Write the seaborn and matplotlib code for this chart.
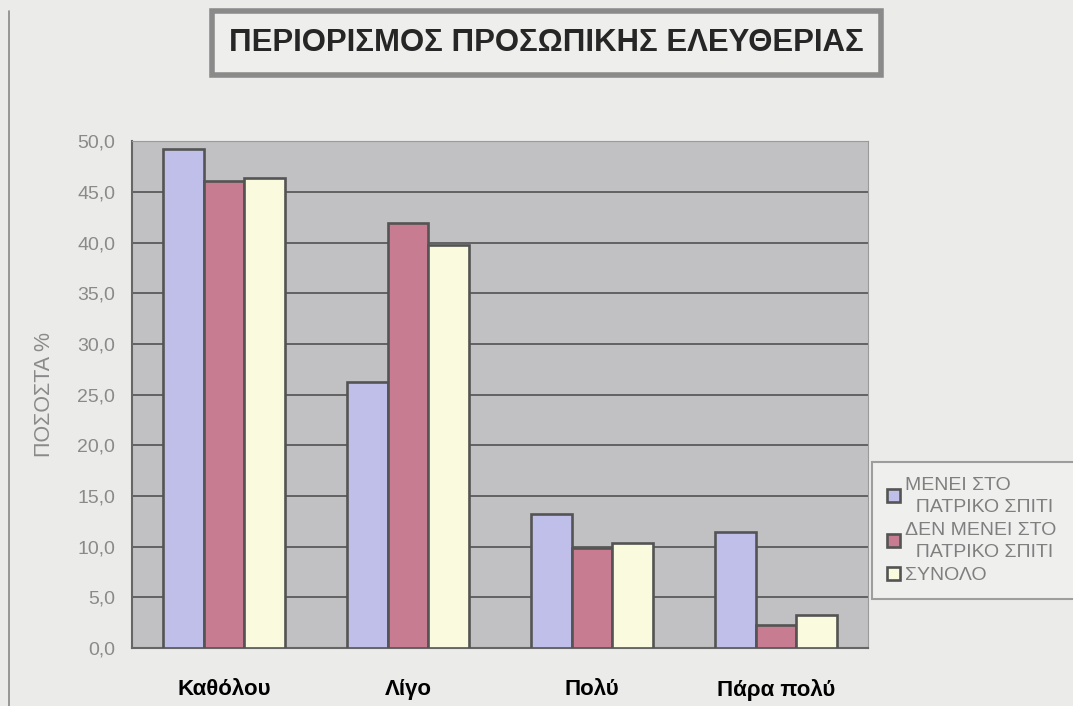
import numpy as np
import pandas as pd
import matplotlib
matplotlib.use('Agg')
import matplotlib.pyplot as plt
import seaborn as sns
from matplotlib.ticker import FuncFormatter

categories = ["Καθόλου", "Λίγο", "Πολύ", "Πάρα πολύ"]
series = ["ΜΕΝΕΙ ΣΤΟ\n  ΠΑΤΡΙΚΟ ΣΠΙΤΙ", "ΔΕΝ ΜΕΝΕΙ ΣΤΟ\n  ΠΑΤΡΙΚΟ ΣΠΙΤΙ", "ΣΥΝΟΛΟ"]
stays = [49.2, 26.2, 13.2, 11.5]
not_stays = [46.1, 41.9, 9.9, 2.3]
total = [46.4, 39.8, 10.4, 3.3]

df = pd.DataFrame({
    "cat": categories * 3,
    "grp": [series[0]] * 4 + [series[1]] * 4 + [series[2]] * 4,
    "val": stays + not_stays + total,
})

sns.set_style("white")
plt.rcParams['font.family'] = ['Liberation Sans', 'DejaVu Sans']

colors = ["#b8b8f0", "#d4708c", "#ffffda"]

fig = plt.figure(figsize=(10.73, 7.06), dpi=100)
fig.patch.set_facecolor("#ebebe9")
ax = fig.add_axes([0.123, 0.082, 0.686, 0.718])
ax.set_facecolor("#c1c1c3")

sns.barplot(data=df, x="cat", y="val", hue="grp", palette=colors, width=0.66,
            edgecolor="#545454", linewidth=1.9, ax=ax, zorder=3)

ax.set_ylim(0, 50)
ax.set_yticks(np.arange(0, 51, 5))
ax.yaxis.set_major_formatter(FuncFormatter(lambda v, p: f"{v:.1f}".replace(".", ",")))
ax.grid(axis="y", color="#5a5a5a", linewidth=1.3, zorder=0)
ax.tick_params(axis="y", colors="#8a8a8a", labelsize=14, length=6, width=1, direction="out", pad=6)
ax.tick_params(axis="x", labelsize=16, length=0, pad=22)
for t in ax.get_yticklabels():
    t.set_color("#8a8a8a")
for t in ax.get_xticklabels():
    t.set_fontweight("bold")
    t.set_color("black")
for s in ["left", "bottom"]:
    ax.spines[s].set_color("#666666")
    ax.spines[s].set_linewidth(1.5)
for s in ["top", "right"]:
    ax.spines[s].set_color("#9a9a9a")
ax.set_xlabel("")
ax.set_ylabel("ΠΟΣΟΣΤΑ %", color="#8a8a8a", fontsize=15.5, labelpad=16)

leg = ax.legend(loc="upper left", bbox_to_anchor=(1.006, 0.367, 0.3, 0.0), mode="expand",
                frameon=True, fontsize=14, handlelength=0.65, handleheight=0.65,
                handletextpad=0.25, labelspacing=0.3, borderpad=0.75, borderaxespad=0,
                fancybox=False, edgecolor="#8a8a8a", facecolor="#f1f1f0", labelcolor="#7f7f7f")
leg.get_frame().set_linewidth(1.5)
for t in leg.get_texts():
    t.set_linespacing(1.4)

fig.text(0.509, 0.939, "ΠΕΡΙΟΡΙΣΜΟΣ ΠΡΟΣΩΠΙΚΗΣ ΕΛΕΥΘΕΡΙΑΣ", ha="center", va="center",
         fontsize=22.4, fontweight="bold",
         bbox=dict(boxstyle="square,pad=0.55", facecolor="#eeeeec", edgecolor="#8a8a8a", linewidth=4))

fig.add_artist(plt.Line2D([0.008, 0.008], [0.0, 0.985], color="#888888", linewidth=1.2))

fig.savefig("out.png", dpi=100, facecolor=fig.get_facecolor())
